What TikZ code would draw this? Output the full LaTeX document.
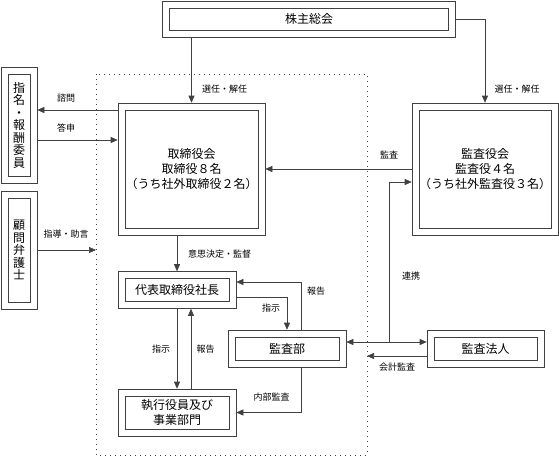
\documentclass[tikz,border=0pt]{standalone}
\usepackage{fontspec}
\setmainfont{Noto Sans CJK JP}
\usetikzlibrary{arrows.meta}

\tikzstyle{kbox} = [draw=black!75, inner sep=0pt, align=center, font=\fontsize{12}{15}\selectfont,
    path picture={\draw[black!75] ([shift={(7pt,-7pt)}]path picture bounding box.north west)
        rectangle ([shift={(-7pt,7pt)}]path picture bounding box.south east);}]
\tikzstyle{tate} = [kbox, font=\fontsize{12}{12.5}\selectfont]
\tikzstyle{lbl} = [font=\fontsize{9}{10}\selectfont, inner sep=0pt]
\tikzstyle{arr} = [draw=black!75, -{Triangle[length=7pt,width=6pt]}]
\tikzstyle{arrs} = [draw=black!75, {Triangle[length=7pt,width=6pt]}-{Triangle[length=7pt,width=6pt]}]

\begin{document}
\begin{tikzpicture}[x=1pt, y=-1pt, line width=0.6pt]
\useasboundingbox (0,0) rectangle (559,456);
\draw[black!75, line width=0.8pt, dash pattern=on 1pt off 4pt] (96,74) rectangle (367,455);

\node[kbox, minimum width=293pt, minimum height=36pt] (soukai) at (309,19) {株主総会};
\node[kbox, minimum width=147pt, minimum height=132pt] (torishimari) at (191.5,169)
    {取締役会\\取締役８名\\（うち社外取締役２名）};
\node[kbox, minimum width=146pt, minimum height=132pt] (kansayaku) at (485,169)
    {監査役会\\監査役４名\\（うち社外監査役３名）};
\node[tate, minimum width=36pt, minimum height=116pt] (shimei) at (19,125)
    {指\\名\\・\\報\\酬\\委\\員};
\node[tate, minimum width=36pt, minimum height=118pt] (komon) at (19,250)
    {顧\\問\\弁\\護\\士};
\node[kbox, minimum width=118pt, minimum height=37pt] (shacho) at (177,290) {代表取締役社長};
\node[kbox, minimum width=118pt, minimum height=47pt] (shikko) at (177,412.5)
    {執行役員及び\\事業部門};
\node[kbox, minimum width=118pt, minimum height=37pt] (kansabu) at (287,348.5) {監査部};
\node[kbox, minimum width=117pt, minimum height=37pt] (hojin) at (485.5,348.5) {監査法人};

\coordinate (komonend) at (96,250);
\coordinate (kaikeiend) at (367,356);
\coordinate (renkei) at (389,342);

\draw[arr] (soukai.south -| torishimari.north) -- (torishimari.north);
\draw[arr] (soukai.east) -| (kansayaku.north);
\draw[arr] (torishimari.west |- 0,110) -- (shimei.east |- 0,110);
\draw[arr] (shimei.east |- 0,140) -- (torishimari.west |- 0,140);
\draw[arr] (komon.east) -- (komonend);
\draw[arr] (kansayaku.west) -- (torishimari.east);
\draw[arr] (torishimari.south -| shacho.north) -- (shacho.north);
\draw[arr] (shacho.south) -- (shikko.north);
\draw[arr] ([xshift=14pt]shikko.north) -- ([xshift=14pt]shacho.south);
\draw[arr] ([xshift=14pt]kansabu.north) |- (shacho.east |- 0,282);
\draw[arr] (shacho.east |- 0,297) -| (kansabu.north);
\draw[arr] ([xshift=14pt]kansabu.south) |- (shikko.east);
\draw[arrs] (kansabu.east |- renkei) -- (hojin.west |- renkei);
\draw[arr] (renkei) |- (kansayaku.west |- 0,182);
\draw[arr] (hojin.west |- kaikeiend) -- (kaikeiend);

\node[lbl] (l1) at (224.5,89) {選任・解任};
\node[lbl] (l2) at (517,89) {選任・解任};
\node[lbl] (l3) at (66,98) {諮問};
\node[lbl] (l4) at (66,128) {答申};
\node[lbl] (l5) at (66,234) {指導・助言};
\node[lbl] (l6) at (389,155) {監査};
\node[lbl] (l7) at (219.5,254) {意思決定・監督};
\node[lbl] (l8) at (161,349) {指示};
\node[lbl] (l9) at (205.5,349) {報告};
\node[lbl] (l10) at (316,291) {報告};
\node[lbl] (l11) at (271,308) {指示};
\node[lbl] (l12) at (271.5,397) {内部監査};
\node[lbl] (l13) at (411,276) {連携};
\node[lbl] (l14) at (397,367) {会計監査};
\end{tikzpicture}
\end{document}
